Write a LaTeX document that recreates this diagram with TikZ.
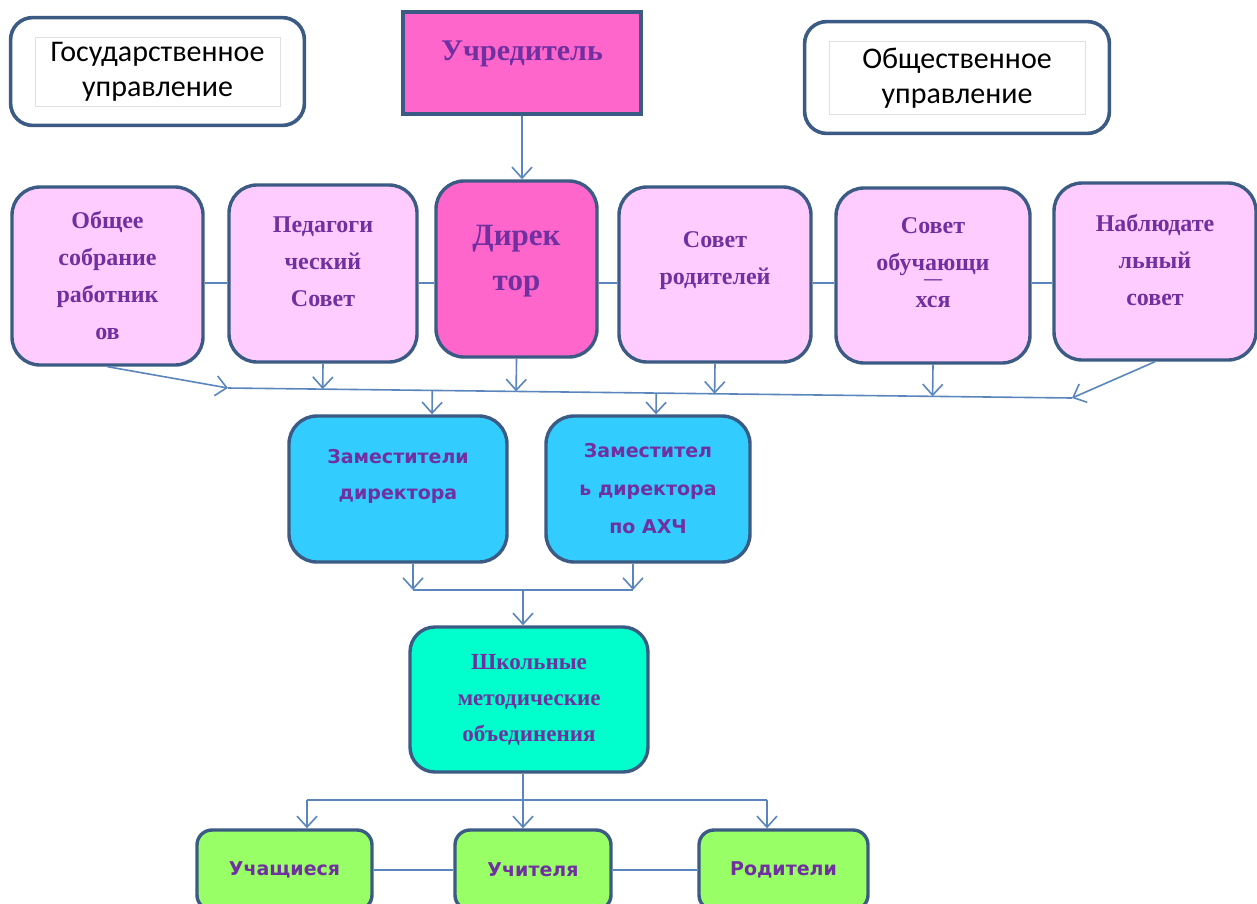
\documentclass[tikz,border=0pt]{standalone}
\usepackage{fontspec}
\setmainfont{Liberation Serif}
\newfontfamily\boxsans{DejaVu Sans}
\newfontfamily\plainsans{Carlito}
\usetikzlibrary{arrows.meta, positioning, fit, calc}

\definecolor{frameblue}{HTML}{3B5B84}
\definecolor{wireblue}{HTML}{5B86BD}
\definecolor{textviolet}{HTML}{7030A0}
\definecolor{pinklight}{HTML}{FFCCFF}
\definecolor{pinkdark}{HTML}{FF66CC}
\definecolor{skyblue}{HTML}{33CCFF}
\definecolor{aqua}{HTML}{00FFCC}
\definecolor{lime}{HTML}{99FF66}

\begin{document}
\begin{tikzpicture}[x=1pt, y=-1pt, >={Straight Barb[length=11pt,width=20pt]},
    box/.style={rectangle, draw=frameblue, line width=3.4pt, rounded corners=28pt, align=center, text=textviolet, inner sep=2pt},
    serifbox/.style={box, font=\bfseries\fontsize{24}{37}\selectfont},
    sansbox/.style={box, font=\boxsans\bfseries\fontsize{19}{36}\selectfont},
    pinkbox/.style={serifbox, fill=pinklight},
    chiefbox/.style={serifbox, fill=pinkdark},
    deputy/.style={sansbox, fill=skyblue, minimum width=210pt, minimum height=146pt},
    member/.style={sansbox, fill=lime, rounded corners=15pt, minimum height=80pt},
    labelbox/.style={rectangle, draw=black!12, line width=0.8pt, fill=white, align=center, text=black, font=\plainsans\fontsize{30}{35}\selectfont},
    outerbox/.style={rectangle, draw=frameblue, line width=3.6pt, rounded corners=22pt, inner xsep=24pt, inner ysep=19pt},
    wire/.style={draw=wireblue, line width=1.6pt}
]
    \useasboundingbox (0,0) rectangle (1257,903);
    \fill[white] (0,0) rectangle (1257,903);
    \clip (0,0) rectangle (1257,903);

    % Top
    \node [labelbox, minimum width=245pt, minimum height=69pt, text depth=4pt] (gov) at (157.5,71.5) {Государственное\\управление};
    \node [outerbox, fit=(gov)] (govframe) {};
    \node [labelbox, minimum width=256pt, minimum height=73pt, text depth=4pt] (pub) at (957,77.5) {Общественное\\управление};
    \node [outerbox, fit=(pub)] (pubframe) {};
    \node [chiefbox, rounded corners=0pt, minimum width=238pt, minimum height=102pt, text depth=24pt, font=\bfseries\fontsize{30}{37}\selectfont] (founder) at (522,63) {Учредитель};

    % Councils
    \node [pinkbox, minimum width=191pt, minimum height=178pt] (staff) at (107.5,276) {Общее\\собрание\\работник\\ов};
    \node [pinkbox, minimum width=188pt, minimum height=177pt, text depth=24pt] (teach) at (323,273.5) {Педагоги\\ческий\\Совет};
    \node [chiefbox, minimum width=161pt, minimum height=176pt, text depth=22pt, font=\bfseries\fontsize{31}{45}\selectfont] (head) at (516.5,269) {Дирек\\тор};
    \node [pinkbox, minimum width=192pt, minimum height=175pt, text depth=33pt] (parents) at (715,274.5) {Совет\\родителей};
    \node [pinkbox, minimum width=194pt, minimum height=175pt, text depth=25pt] (pupils) at (933,275.5) {Совет\\обучающи\\[-23pt]{\fontsize{18}{18}\selectfont —}\\[-14pt]хся};
    \node [pinkbox, minimum width=202pt, minimum height=177pt, text depth=23pt] (board) at (1155,271.5) {Наблюдате\\льный\\совет};

    % Deputies
    \node [deputy, minimum width=218pt, text depth=30pt] (deps) at (398,489) {Заместители\\директора};
    \node [deputy, minimum width=204pt, font=\boxsans\bfseries\fontsize{19}{38}\selectfont] (depahch) at (648,489) {Заместител\\ь директора\\по АХЧ};

    % Methodical unions
    \node [serifbox, fill=aqua, rounded corners=25pt, minimum width=238pt, minimum height=145pt, font=\bfseries\fontsize{23}{36}\selectfont] (unions) at (529,699.5) {Школьные\\методические\\объединения};

    % Bottom row
    \node [member, minimum width=175pt] (students) at (284.5,870) {Учащиеся};
    \node [member, minimum width=156pt] (teachers) at (533,870) {Учителя};
    \node [member, minimum width=169pt] (family) at (783.5,870) {Родители};

    % Connections
    \coordinate (rowline) at (0,283);
    \coordinate (busL) at (228,388);
    \coordinate (busR) at (1072,398);
    \coordinate (depsjoin) at (523,590);
    \coordinate (forkL) at (307,800);
    \coordinate (forkR) at (767,800);

    \path [wire, ->] (founder.south) -- (founder.south |- head.north);
    \foreach \a/\b in {staff/teach, teach/head, head/parents, parents/pupils, pupils/board}
        \path [wire] (\a.east |- rowline) -- (\b.west |- rowline);
    \path [wire] (busL) -- (busR);
    \path [wire, ->] (staff.south) -- (busL);
    \path [wire, ->] (board.south) -- (busR);
    \foreach \n in {teach, head, parents, pupils}
        \path [wire, ->] (\n.south) -- ($(busL)!(\n.south)!(busR)$);
    \path [wire, ->] ($(busL)!([xshift=34pt]deps.north)!(busR)$) -- ([xshift=34pt]deps.north);
    \path [wire, ->] ($(busL)!([xshift=8pt]depahch.north)!(busR)$) -- ([xshift=8pt]depahch.north);

    \path [wire, ->] ([xshift=15pt]deps.south) -- ([xshift=15pt]deps.south |- depsjoin);
    \path [wire, ->] ([xshift=-15pt]depahch.south) -- ([xshift=-15pt]depahch.south |- depsjoin);
    \path [wire] ([xshift=15pt]deps.south |- depsjoin) -- ([xshift=-15pt]depahch.south |- depsjoin);
    \path [wire, ->] (depsjoin) -- (depsjoin |- unions.north);

    \path [wire, ->] (unions.south -| depsjoin) -- (depsjoin |- teachers.north);
    \path [wire] (forkL) -- (forkR);
    \path [wire, ->] (forkL) -- (forkL |- students.north);
    \path [wire, ->] (forkR) -- (forkR |- family.north);
    \path [wire] (students) -- (teachers);
    \path [wire] (teachers) -- (family);
\end{tikzpicture}
\end{document}
